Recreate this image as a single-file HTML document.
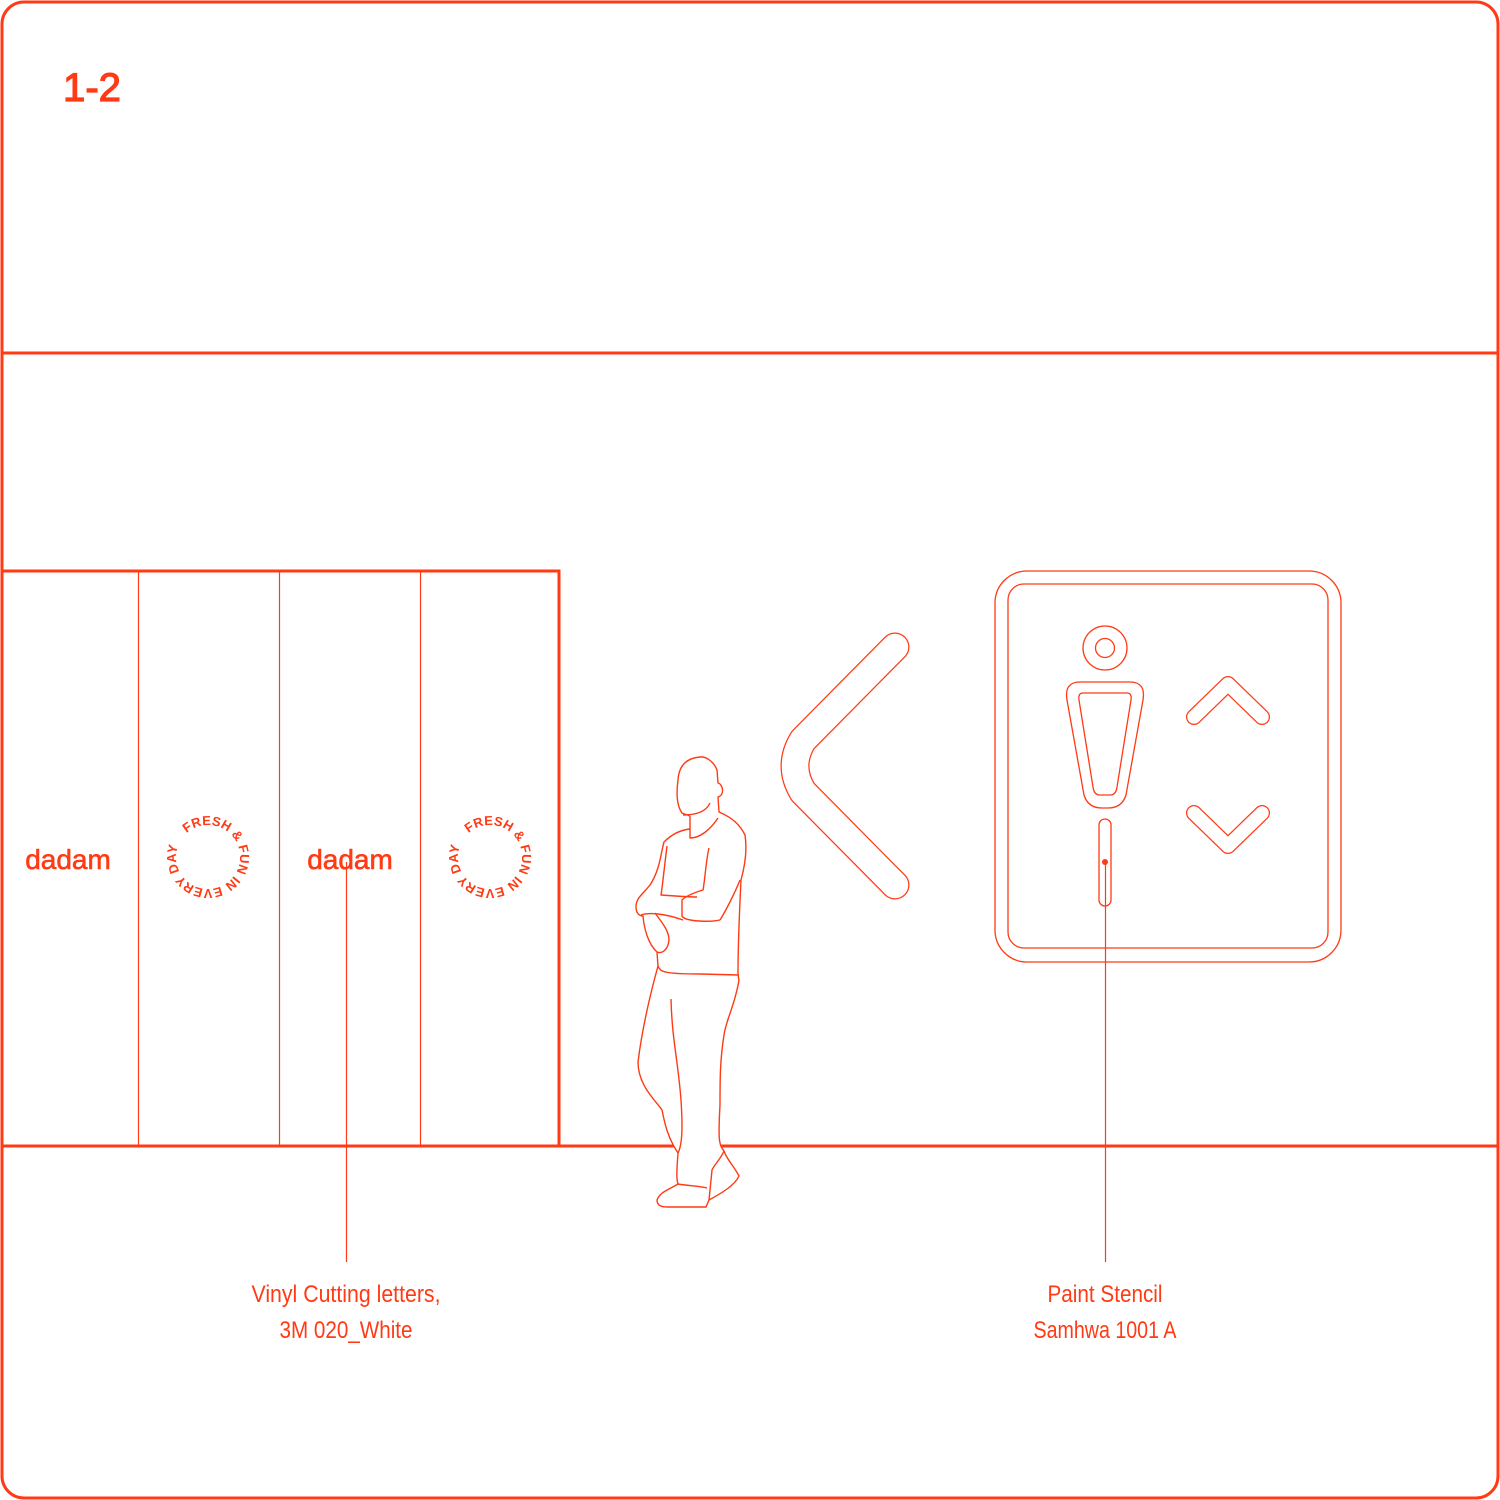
<!DOCTYPE html>
<html><head><meta charset="utf-8"><style>
html,body{margin:0;padding:0;background:#fff}
svg{display:block}
.t{font-family:"Liberation Sans Narrow","Liberation Sans",sans-serif;fill:#ff3a14}
</style></head><body>
<svg width="1500" height="1500" viewBox="0 0 1500 1500" xmlns="http://www.w3.org/2000/svg">
<defs>
<path id="c1" d="M186.6,833.2 A32,32 0 1,1 229.4,880.8 A32,32 0 1,1 186.6,833.2"/>
<path id="c2" d="M468.6,833.2 A32,32 0 1,1 511.4,880.8 A32,32 0 1,1 468.6,833.2"/>
</defs>
<g fill="none" stroke="#ff3a14">
<rect x="2" y="2" width="1496" height="1496" rx="22" stroke-width="3"/>
<line x1="2" y1="353" x2="1498" y2="353" stroke-width="3"/>
<line x1="2" y1="1146" x2="1498" y2="1146" stroke-width="3"/>
<rect x="2" y="571" width="557" height="575" stroke-width="3"/>
<line x1="138.5" y1="571" x2="138.5" y2="1146" stroke-width="1.2"/>
<line x1="279.5" y1="571" x2="279.5" y2="1146" stroke-width="1.2"/>
<line x1="420.5" y1="571" x2="420.5" y2="1146" stroke-width="1.2"/>
<line x1="346.5" y1="862" x2="346.5" y2="1262" stroke-width="1.2"/>
<line x1="1105.5" y1="862" x2="1105.5" y2="1262" stroke-width="1.2"/>
<path d="M895,647 L803,740 Q787,766 803,792 L895,885" stroke-width="29" stroke-linecap="round" stroke-linejoin="round"/>
<path d="M895,647 L803,740 Q787,766 803,792 L895,885" stroke="#fff" stroke-width="26.5" stroke-linecap="round" stroke-linejoin="round"/>
<rect x="995" y="571" width="346" height="391" rx="32" stroke-width="1.3"/>
<rect x="1008" y="584" width="320" height="364" rx="16" stroke-width="1.3"/>
<circle cx="1105" cy="648" r="22" stroke-width="1.3"/>
<circle cx="1105" cy="648" r="9.5" stroke-width="1.3"/>
<path d="M1080,682 L1130,682 Q1146,682 1143,700 L1126,795 Q1122,808 1108,808 L1102,808 Q1088,808 1084,795 L1067,700 Q1064,682 1080,682 Z" stroke-width="1.3"/>
<path d="M1083,693 L1127,693 Q1132,693 1131,700 L1117,787 Q1116,795 1110,795 L1100,795 Q1094,795 1093,787 L1079,700 Q1078,693 1083,693 Z" stroke-width="1.3"/>
<rect x="1099" y="819" width="12" height="87" rx="6" stroke-width="1.3"/>
<path d="M1194,717 L1228,684 L1262,717" stroke-width="16" stroke-linecap="round" stroke-linejoin="round"/>
<path d="M1194,717 L1228,684 L1262,717" stroke="#fff" stroke-width="13.5" stroke-linecap="round" stroke-linejoin="round"/>
<path d="M1194,813 L1228,846 L1262,813" stroke-width="16" stroke-linecap="round" stroke-linejoin="round"/>
<path d="M1194,813 L1228,846 L1262,813" stroke="#fff" stroke-width="13.5" stroke-linecap="round" stroke-linejoin="round"/>
<g stroke-width="1.4" stroke-linejoin="round">
<path fill="#fff" d="M690,817 L690,829 C680,830 672,834 664,842 C661,852 660,870 650,885 C642,895 636,898 636,907 C636,914 640,916 643,916 C644,928 648,944 657,952 L658,966 C650,995 642,1030 638,1062 C638,1085 655,1100 662,1110 C665,1125 668,1138 678,1153 C677,1168 676,1178 678,1184 C668,1190 660,1192 657,1200 C657,1206 662,1207 668,1207 L706,1207 L709,1200 C722,1193 735,1185 739,1176 C734,1166 727,1160 724,1151 C719,1145 718,1140 720,1105 C720,1080 720,1060 724,1035 C726,1020 735,1005 739,980 L738,975 C738,940 740,900 741,880 C746,862 747,848 745,835 C740,825 733,818 719,812 L718,797 C725,795 723,784 718,783 L717,770 C714,762 706,756 700,757 C688,758 679,764 678,780 C676,795 677,806 682,813 C686,815 690,815 690,817 Z"/>
<path d="M683,815 C695,815 706,812 710,803"/>
<path d="M690,829 L690,838 C700,838 710,830 718,818"/>
<path d="M667,846 C664,870 662,890 661,895 C675,896 690,897 697,897"/>
<path d="M709,848 C706,860 705,880 703,890 C693,893 686,896 682,900 L682,916 C685,922 712,922 720,920"/>
<path d="M740,880 C734,895 725,912 720,920"/>
<path d="M641,915 C650,912 666,914 683,920"/>
<path d="M657,952 C662,954 668,950 669,940 C669,930 660,920 655,913"/>
<path d="M658,966 C660,972 665,974 700,974 L739,975"/>
<path d="M671,999 C672,1040 678,1060 681,1100 C683,1130 682,1145 678,1153"/>
<path d="M724,1151 C720,1160 714,1165 712,1170 L709,1200"/>
<path d="M678,1184 C690,1186 700,1186 707,1188"/>
</g>
</g>
<circle cx="1105" cy="862" r="3" fill="#ff3a14"/>
<text x="92" y="101" class="t" font-size="40" text-anchor="middle" textLength="58" lengthAdjust="spacingAndGlyphs" stroke="#ff3a14" stroke-width="1.2">1-2</text>
<text x="68" y="869" font-family="Liberation Sans,sans-serif" font-size="28" fill="#ff3a14" text-anchor="middle" stroke="#ff3a14" stroke-width="0.6">dadam</text>
<text x="350" y="869" font-family="Liberation Sans,sans-serif" font-size="28" fill="#ff3a14" text-anchor="middle" stroke="#ff3a14" stroke-width="0.6">dadam</text>
<g font-family="Liberation Sans,sans-serif" font-size="13" font-weight="bold" fill="#ff3a14">
<text><textPath href="#c1" textLength="185" lengthAdjust="spacing">FRESH &amp; FUN IN EVERY DAY</textPath></text>
<text><textPath href="#c2" textLength="185" lengthAdjust="spacing">FRESH &amp; FUN IN EVERY DAY</textPath></text>
</g>
<g class="t" font-size="24" text-anchor="middle">
<text x="346" y="1302" textLength="189" lengthAdjust="spacingAndGlyphs">Vinyl Cutting letters,</text>
<text x="346" y="1338" textLength="133" lengthAdjust="spacingAndGlyphs">3M 020_White</text>
<text x="1105" y="1302" textLength="115" lengthAdjust="spacingAndGlyphs">Paint Stencil</text>
<text x="1105" y="1338" textLength="143" lengthAdjust="spacingAndGlyphs">Samhwa 1001 A</text>
</g>
</svg>
</body></html>
